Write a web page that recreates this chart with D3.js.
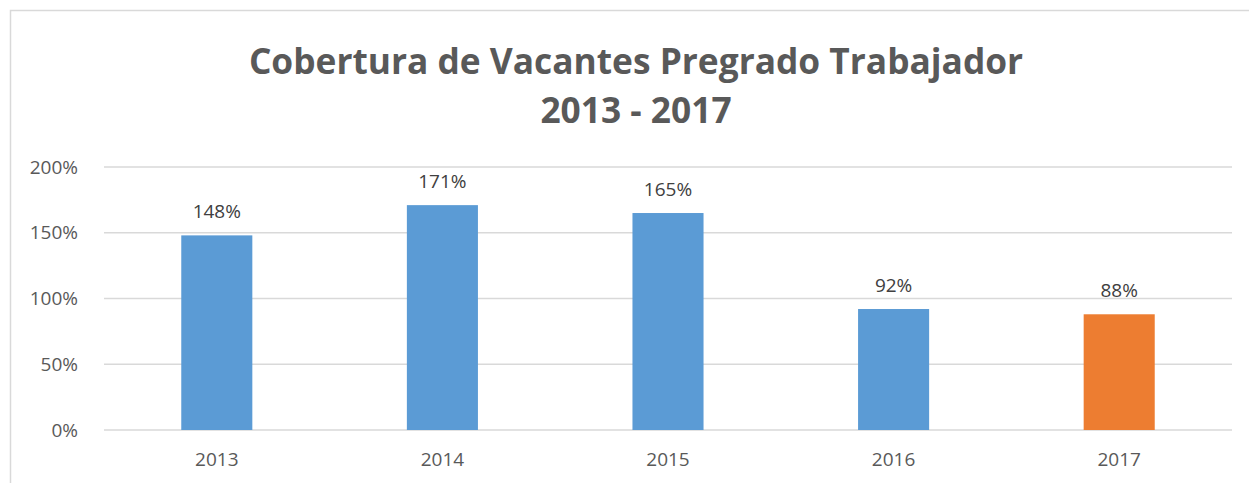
<!DOCTYPE html>
<html lang="es">
<head>
<meta charset="utf-8">
<title>Cobertura de Vacantes Pregrado Trabajador</title>
<style>
  body { margin: 0; background: #fff; }
  svg { display: block; font-family: "Open Sans", "Liberation Sans", sans-serif; }
</style>
<script src="https://d3js.org/d3.v7.min.js"></script>
</head>
<body>
<div id="chart"></div>
<script>
var years = ["2013", "2014", "2015", "2016", "2017"],
    values = [148, 171, 165, 92, 88],
    barColors = ["#5b9bd5", "#5b9bd5", "#5b9bd5", "#5b9bd5", "#ed7d31"],
    yTicks = [0, 50, 100, 150, 200],
    titleLines = ["Cobertura de Vacantes Pregrado Trabajador", "2013 - 2017"];

var width = 1249, height = 483,
    margin = {top: 167, right: 17, bottom: 53, left: 104};

var svg = d3.select("#chart").append("svg")
    .attr("width", width)
    .attr("height", height);

// chart border (cropped at right and bottom)
svg.append("path")
    .attr("d", "M10.5," + height + "V10.5H" + width)
    .attr("fill", "none")
    .attr("stroke", "#d9d9d9")
    .attr("stroke-width", 1.5);

svg.selectAll(".title")
  .data(titleLines)
  .enter().append("text")
    .attr("class", "title")
    .attr("x", 636)
    .attr("y", function(d, i) { return 74 + i * 49; })
    .attr("text-anchor", "middle")
    .attr("fill", "#595959")
    .style("font-size", "35.3px")
    .style("font-weight", "bold")
    .text(function(d) { return d; });

var x = d3.scaleBand()
    .domain(years)
    .range([margin.left, width - margin.right])
    .paddingInner(0.685)
    .paddingOuter(0.3425);

var y = d3.scaleLinear()
    .domain([0, 200])
    .range([height - margin.bottom, margin.top]);

// gridlines
svg.append("g")
  .selectAll("line")
  .data(yTicks)
  .enter().append("line")
    .attr("x1", margin.left)
    .attr("x2", width - margin.right)
    .attr("y1", function(d) { return y(d); })
    .attr("y2", function(d) { return y(d); })
    .attr("stroke", "#d9d9d9")
    .attr("stroke-width", 1.5);

var yAxis = svg.append("g")
    .attr("transform", "translate(" + (margin.left - 23) + ",0)")
    .call(d3.axisLeft(y).tickValues(yTicks).tickSize(0).tickFormat(function(d) { return d + "%"; }));
yAxis.select(".domain").remove();
yAxis.selectAll("text")
    .attr("fill", "#595959")
    .style("font-size", "19px")
    .style("font-family", "Open Sans, sans-serif");

var xAxis = svg.append("g")
    .attr("transform", "translate(0," + (height - margin.bottom) + ")")
    .call(d3.axisBottom(x).tickSize(0).tickPadding(23));
xAxis.select(".domain").remove();
xAxis.selectAll("text")
    .attr("fill", "#595959")
    .style("font-size", "19px")
    .style("font-family", "Open Sans, sans-serif");

svg.append("g")
  .selectAll("rect")
  .data(values)
  .enter().append("rect")
    .attr("x", function(d, i) { return x(years[i]); })
    .attr("y", function(d) { return y(d); })
    .attr("width", x.bandwidth())
    .attr("height", function(d) { return y(0) - y(d); })
    .attr("fill", function(d, i) { return barColors[i]; });

svg.append("g")
  .selectAll("text")
  .data(values)
  .enter().append("text")
    .attr("x", function(d, i) { return x(years[i]) + x.bandwidth() / 2; })
    .attr("y", function(d) { return y(d) - 17; })
    .attr("text-anchor", "middle")
    .attr("fill", "#404040")
    .style("font-size", "19px")
    .text(function(d) { return d + "%"; });
</script>
</body>
</html>
